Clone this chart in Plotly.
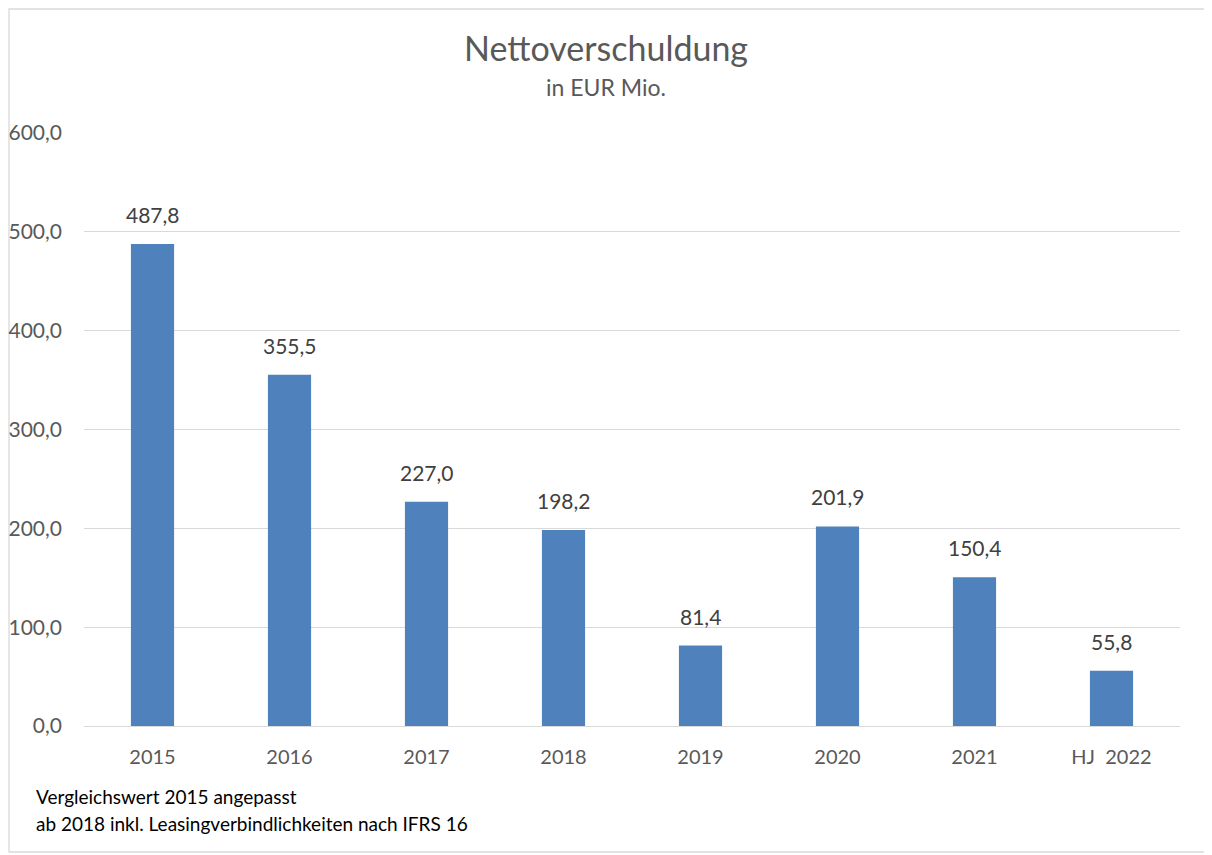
import plotly.graph_objects as go

categories = ["2015", "2016", "2017", "2018", "2019", "2020", "2021", "HJ\u00a0 2022"]
net_debt = [487.8, 355.5, 227.0, 198.2, 81.4, 201.9, 150.4, 55.8]

title_text = "Nettoverschuldung"
subtitle_text = "in EUR Mio."
footnotes = ["Vergleichswert 2015 angepasst", "ab 2018 inkl. Leasingverbindlichkeiten nach IFRS 16"]

# page is drawn with an 8px body margin, so the figure starts at (8, 8)
OFF = 8
W, H = 1212 - OFF, 855 - OFF
plot_l, plot_r, plot_t, plot_b = 84, 1180, 133, 726  # page pixels
left, right, top, bottom = plot_l - OFF, OFF + W - plot_r, plot_t - OFF, OFF + H - plot_b
pw, ph = plot_r - plot_l, plot_b - plot_t


def px_x(x):
    return (x - plot_l) / pw


def px_y(y):
    return (plot_b - y) / ph


font_name = "Lato, Open Sans, sans-serif"
grey = "#595959"

fig = go.Figure(go.Bar(
    x=categories, y=net_debt,
    marker=dict(color="#4F81BD", line=dict(width=0)),
    hoverinfo="x+y",
))

fig.update_layout(
    width=W, height=H,
    margin=dict(l=left, r=right, t=top, b=bottom),
    paper_bgcolor="white", plot_bgcolor="white",
    separators=",.",
    bargap=0.685,
    showlegend=False,
    font=dict(family=font_name, color=grey),
)
fig.update_yaxes(
    range=[0, 600], dtick=100, tickformat=".1f", automargin=False,
    showgrid=True, gridcolor="#D9D9D9", gridwidth=1.3,
    zeroline=False, showline=False, ticks="",
    tickfont=dict(size=21, color=grey), ticklabelstandoff=21,
)
fig.update_xaxes(
    type="category", automargin=False, range=[-0.5, len(categories) - 0.5],
    showline=True, linecolor="#D9D9D9", linewidth=1.3, ticks="",
    tickfont=dict(size=20, color=grey), ticklabelstandoff=13,
)

annotations = [
    dict(text=title_text, x=px_x(606), y=px_y(47), xref="paper", yref="paper",
         showarrow=False, font=dict(size=34, color=grey, family=font_name), xanchor="center", yanchor="middle"),
    dict(text=subtitle_text, x=px_x(606), y=px_y(87), xref="paper", yref="paper",
         showarrow=False, font=dict(size=23, color=grey, family=font_name), xanchor="center", yanchor="middle"),
]
# value labels above the bars (category index on the x axis)
for i, val in enumerate(net_debt):
    annotations.append(dict(
        text=f"{val:.1f}".replace(".", ","), x=i, y=val, xref="x", yref="y",
        showarrow=False, yanchor="bottom", yshift=15,
        font=dict(size=21, color="#404040", family=font_name),
    ))
for i, note in enumerate(footnotes):
    annotations.append(dict(
        text=note, x=px_x(34), y=px_y(797 + 26 * i), xref="paper", yref="paper",
        showarrow=False, font=dict(size=19, color="#000000", family=font_name),
        xanchor="left", yanchor="middle",
    ))
fig.update_layout(annotations=annotations)

fig.add_shape(type="rect", xref="paper", yref="paper",
              x0=px_x(OFF + 1), x1=px_x(1209), y0=px_y(852), y1=px_y(OFF + 1),
              line=dict(color="#D9D9D9", width=1.3), fillcolor="rgba(0,0,0,0)", layer="below")

fig.write_html("out.html")
